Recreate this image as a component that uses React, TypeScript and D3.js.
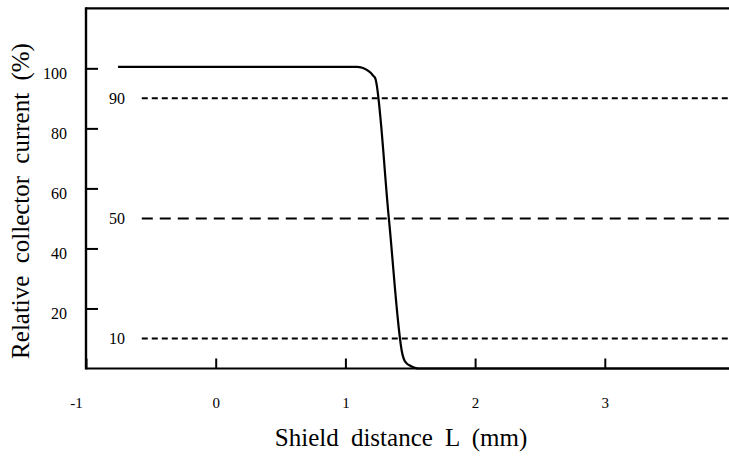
import { useEffect, useRef } from "react";
import * as d3 from "d3";

// Shield distance (mm) vs relative collector current (%)
const curveX = [-0.753, 1.09, 1.13, 1.165, 1.195, 1.215, 1.23, 1.335, 1.44, 1.452, 1.47, 1.5, 1.53, 1.57, 4.0];
const curveY = [100.5, 100.5, 100.2, 99.5, 98.5, 97.5, 96.7, 50, 4.7, 3.0, 1.8, 0.9, 0.3, 0, 0];

// reference levels drawn as dashed lines
const levels = [90, 50, 10];
const levelDash = ["6,4", "11,7", "6,4"];
const levelStartX = -0.57;

const yTicks = [20, 40, 60, 80, 100];
const xTicks = [-1, 0, 1, 2, 3];

const W = 729;
const H = 457;
const X0 = 86;          // left axis
const PX_PER_MM = 129.7;
const Y_TOP = 8.3;
const Y_BOT = 368.5;

const FONT = "Liberation Serif, Times New Roman, Times, DejaVu Serif, serif";

export default function App() {
  const svgRef = useRef<SVGSVGElement>(null);

  useEffect(() => {
    if (!svgRef.current) return;
    const svg = d3.select(svgRef.current);
    svg.selectAll("*").remove();

    const x = d3.scaleLinear().domain([-1, 4]).range([X0, X0 + 5 * PX_PER_MM]);
    const y = d3.scaleLinear().domain([0, 120]).range([Y_BOT, Y_TOP]);

    svg.append("rect").attr("width", W).attr("height", H).attr("fill", "#fff");

    // ── Frame ────────────────────────────────────────────────────────────────
    svg.append("line")
      .attr("x1", X0).attr("x2", W)
      .attr("y1", y(120)).attr("y2", y(120))
      .attr("stroke", "#000").attr("stroke-width", 2.2);

    // ── Y axis (ticks point inward) ─────────────────────────────────────────
    const gy = svg.append("g")
      .attr("transform", `translate(${X0},0)`)
      .call(d3.axisLeft(y).tickValues(yTicks).tickSizeInner(-12).tickSizeOuter(0).tickPadding(19));
    gy.attr("font-family", null).attr("font-size", null);
    gy.select(".domain").remove();
    gy.selectAll(".tick line").attr("stroke", "#000").attr("stroke-width", 2);
    gy.selectAll(".tick text")
      .attr("fill", "#000")
      .style("font-family", FONT)
      .style("font-size", "16px")
      .attr("dy", "0.62em");

    svg.append("line")
      .attr("x1", X0).attr("x2", X0)
      .attr("y1", y(120) - 1).attr("y2", Y_BOT + 1)
      .attr("stroke", "#000").attr("stroke-width", 2.4);

    // ── X axis ───────────────────────────────────────────────────────────────
    const gx = svg.append("g")
      .attr("transform", `translate(0,${Y_BOT})`)
      .call(d3.axisBottom(x).tickValues(xTicks).tickSizeInner(-10).tickSizeOuter(0).tickPadding(29));
    gx.attr("font-family", null).attr("font-size", null);
    gx.select(".domain").remove();
    gx.selectAll(".tick line").attr("stroke", "#000").attr("stroke-width", 2);
    gx.selectAll(".tick text")
      .attr("fill", "#000")
      .style("font-family", FONT)
      .style("font-size", "15px")
      .text((d: any) => String(d))
      .attr("dx", (d: any) => (d === -1 ? -10 : 0));

    svg.append("line")
      .attr("x1", X0).attr("x2", W)
      .attr("y1", Y_BOT).attr("y2", Y_BOT)
      .attr("stroke", "#000").attr("stroke-width", 2.2);

    // ── Reference levels ─────────────────────────────────────────────────────
    levels.forEach((lv, i) => {
      svg.append("line")
        .attr("x1", x(levelStartX)).attr("x2", W)
        .attr("y1", y(lv)).attr("y2", y(lv))
        .attr("stroke", "#000").attr("stroke-width", 2)
        .attr("stroke-dasharray", levelDash[i]);
      svg.append("text")
        .attr("x", 125).attr("y", y(lv))
        .attr("dy", "0.35em")
        .attr("text-anchor", "end")
        .style("font-family", FONT)
        .style("font-size", "16px")
        .attr("fill", "#000")
        .text(String(lv));
    });

    // ── Curve ────────────────────────────────────────────────────────────────
    const pts: [number, number][] = curveX.map((v, i) => [v, curveY[i]]);
    const line = d3.line<[number, number]>()
      .x(d => x(d[0]))
      .y(d => y(d[1]))
      .curve(d3.curveMonotoneX);
    svg.append("path")
      .attr("d", line(pts))
      .attr("fill", "none")
      .attr("stroke", "#000")
      .attr("stroke-width", 2.2);

    // ── Axis titles ──────────────────────────────────────────────────────────
    svg.append("text")
      .attr("x", 401).attr("y", 446)
      .attr("text-anchor", "middle")
      .style("font-family", FONT)
      .style("font-size", "25px")
      .style("word-spacing", "6px")
      .attr("fill", "#000")
      .text("Shield distance L (mm)");

    svg.append("text")
      .attr("transform", `translate(29,201) rotate(-90)`)
      .attr("text-anchor", "middle")
      .style("font-family", FONT)
      .style("font-size", "25px")
      .style("word-spacing", "6px")
      .attr("fill", "#000")
      .text("Relative collector current (%)");
  }, []);

  return (
    <svg
      ref={svgRef}
      width={W}
      height={H}
      style={{ position: "absolute", left: 0, top: 0, display: "block" }}
    />
  );
}
